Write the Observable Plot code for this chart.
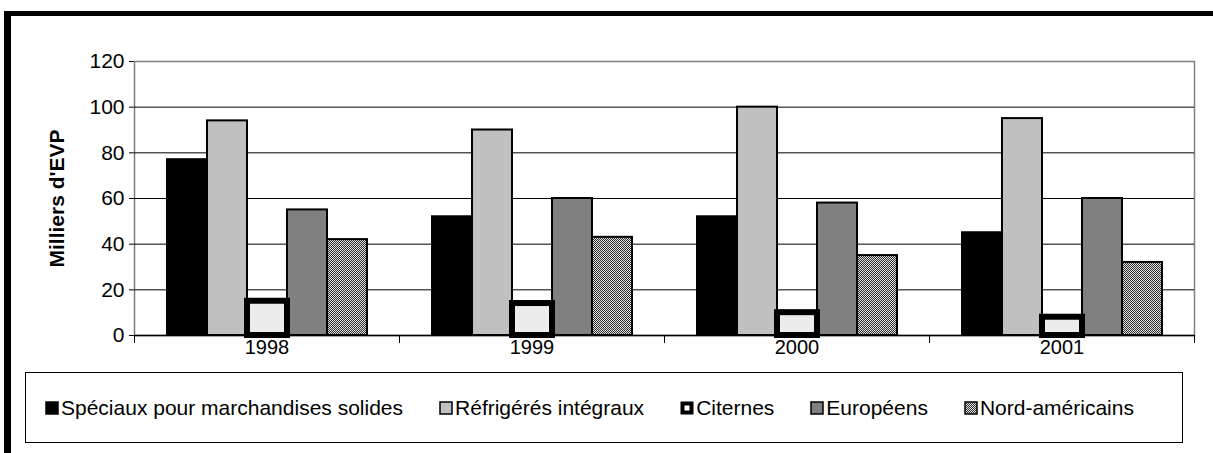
<!DOCTYPE html>
<html><head><meta charset="utf-8">
<script src="https://cdn.jsdelivr.net/npm/d3@7"></script>
<script src="https://cdn.jsdelivr.net/npm/@observablehq/plot@0.6"></script>
<style>
body{margin:0;background:#fff;font-family:"Liberation Sans",Arial,sans-serif;}
#wrap{position:relative;width:1213px;height:453px;overflow:hidden;background:#fff;}
#border{position:absolute;left:4px;top:11px;width:1400px;height:600px;border-top:5px solid #000;border-left:7px solid #000;}
#chart{position:absolute;left:0;top:0;}
#legend{position:absolute;left:25px;top:372px;width:1158px;height:71px;border:1px solid #000;box-sizing:border-box;display:flex;align-items:center;padding-left:19px;font-size:21px;color:#000;}
.item{display:flex;align-items:center;margin-right:36px;white-space:nowrap;}
.item svg{margin-right:2px;}
#chart g[aria-label="y-axis tick label"] text{font-size:21px;}
</style></head>
<body>
<div id="wrap"><div id="border"></div><div id="chart"></div><div id="legend"></div></div>
<script>
const years = ["1998", "1999", "2000", "2001"];
const series = ["Spéciaux pour marchandises solides", "Réfrigérés intégraux", "Citernes", "Européens", "Nord-américains"];
const speciaux = [77, 52, 52, 45];
const refrigeres = [94, 90, 100, 95];
const citernes = [15, 14, 10, 8];
const europeens = [55, 60, 58, 60];
const nordAmericains = [42, 43, 35, 32];
const yTicks = [0, 20, 40, 60, 80, 100, 120];
const fills = ["#000000", "#c0c0c0", "#ececec", "#808080", "url(#nordPattern)"];
const yLabel = "Milliers d'EVP";

const values = [speciaux, refrigeres, citernes, europeens, nordAmericains];
const data = years.flatMap((year, i) => series.map((s, j) => ({year, series: s, value: values[j][i]})));

const H = 362, MT = 61, MB = 27;
const plot = Plot.plot({
  width: 1213, height: H, marginTop: MT, marginBottom: MB, marginLeft: 133, marginRight: 18,
  style: {fontFamily: "'Liberation Sans', Arial, sans-serif", fontSize: "20px", background: "transparent", color: "#000"},
  fx: {domain: years, padding: 0, label: null, tickSize: 0, tickPadding: 4, axis: "bottom"},
  x: {domain: series, axis: null, paddingInner: 0, paddingOuter: 0.74},
  y: {domain: [0, 120], ticks: yTicks, tickSize: 5, tickPadding: 5, label: null},
  color: {domain: series, range: fills},
  marks: [
    Plot.frame({facet: "super", stroke: "#808080", strokeWidth: 1.5}),
    Plot.ruleY(yTicks.filter(d => d > 0 && d < 120), {stroke: "#000"}),
    Plot.barY(data.filter(d => d.series !== series[2]), {fx: "year", x: "series", y: "value", fill: "series", stroke: "#000", strokeWidth: 2}),
    Plot.barY(data.filter(d => d.series === series[2]), {fx: "year", x: "series", y: "value", fill: "series", stroke: "#000", strokeWidth: 6}),
    Plot.ruleY([0], {stroke: "#000", strokeWidth: 1.5}),
    Plot.frame({anchor: "left", insetTop: H - MT - MB, insetBottom: -7, stroke: "#000"}),
    Plot.frame({anchor: "right", insetTop: H - MT - MB, insetBottom: -7, stroke: "#000"}),
    Plot.text([yLabel], {facet: "super", frameAnchor: "left", dx: -77, rotate: -90, textAnchor: "middle", text: d => d, fontWeight: "bold", fontSize: 21, fill: "#000"})
  ]
});

const defs = d3.select(plot).insert("defs", ":first-child");
const pat = defs.append("pattern").attr("id", "nordPattern").attr("width", 2).attr("height", 2).attr("patternUnits", "userSpaceOnUse");
pat.append("rect").attr("width", 2).attr("height", 2).attr("fill", "#e0e0e0");
pat.append("rect").attr("width", 1).attr("height", 1).attr("fill", "#303030");
pat.append("rect").attr("x", 1).attr("y", 1).attr("width", 1).attr("height", 1).attr("fill", "#303030");
document.getElementById("chart").appendChild(plot);

// legend
const legend = d3.select("#legend");
series.forEach((s, i) => {
  const item = legend.append("div").attr("class", "item");
  const sw = item.append("svg").attr("width", 14).attr("height", 14);
  if (s === series[2]) {
    sw.append("rect").attr("x", 0.5).attr("y", 0.5).attr("width", 13).attr("height", 13).attr("fill", "#000");
    sw.append("rect").attr("x", 4.5).attr("y", 4.5).attr("width", 5).attr("height", 5).attr("fill", "#fff");
  } else {
    sw.append("rect").attr("x", 1).attr("y", 1).attr("width", 12).attr("height", 12)
      .attr("fill", fills[i]).attr("stroke", "#000").attr("stroke-width", 1.5);
  }
  item.append("span").text(s);
});
</script>
</body></html>
